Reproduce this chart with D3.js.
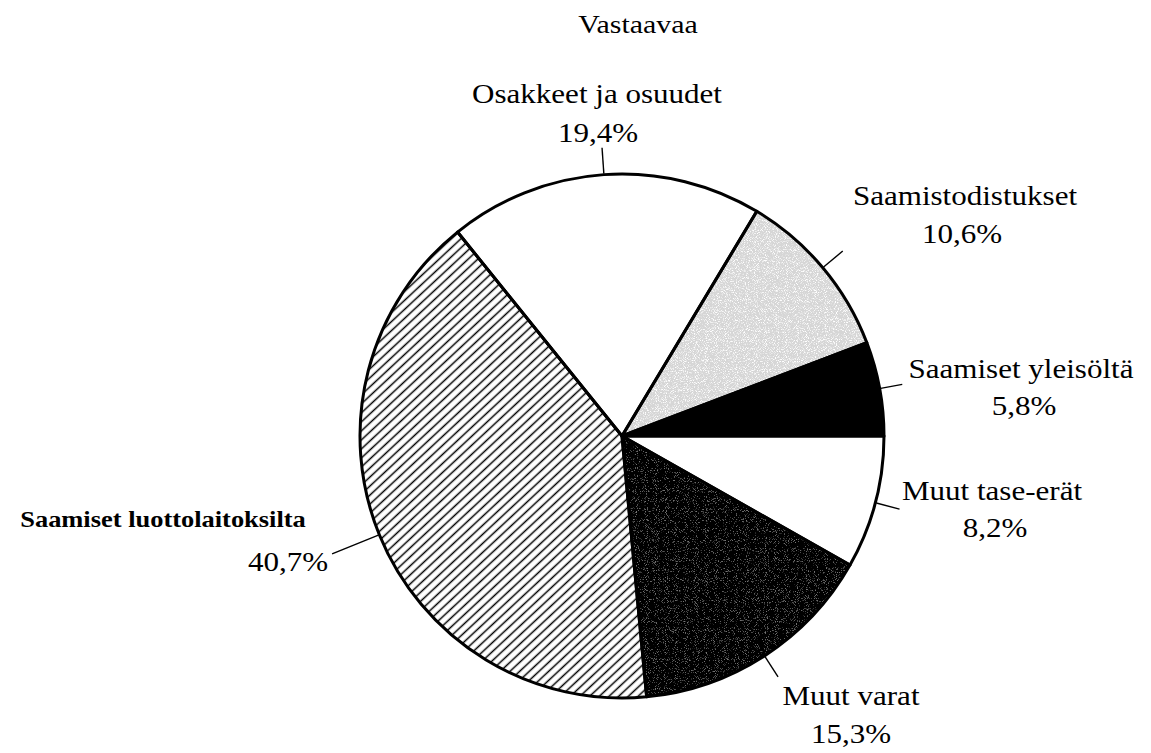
<!DOCTYPE html>
<html>
<head>
<meta charset="utf-8">
<script src="https://cdn.jsdelivr.net/npm/d3@7"></script>
<style>
  html, body { margin: 0; padding: 0; background: #fff; }
  svg { display: block; }
</style>
</head>
<body>
<svg id="chart" width="1151" height="753"></svg>
<script>
// Balance sheet assets ("Vastaavaa"), share of total in percent.
// Order runs clockwise from three o'clock.
const chartTitle = "Vastaavaa";
const categories = [
  "Muut tase-erät",
  "Muut varat",
  "Saamiset luottolaitoksilta",
  "Osakkeet ja osuudet",
  "Saamistodistukset",
  "Saamiset yleisöltä"
];
const shares = [8.2, 15.3, 40.7, 19.4, 10.6, 5.8];
const shareLabels = ["8,2%", "15,3%", "40,7%", "19,4%", "10,6%", "5,8%"];

// ---- layout & styles ----
const W = 1151, H = 753;
const cx = 622, cy = 436, R = 262;
const stretch = 1.15;           // wide serif lettering
const serif = "'Liberation Serif', 'Times New Roman', 'DejaVu Serif', serif";

// label placement: name centre/baseline, percent centre/baseline, leader length
const labelLayout = {
  "Muut tase-erät":             { nx: 992, ny: 500, px: 995, py: 537, lead: 24 },
  "Muut varat":                 { nx: 851, ny: 705, px: 851, py: 743, lead: 24 },
  "Saamiset luottolaitoksilta": { nx: 163, ny: 527, px: 288, py: 571, lead: 50, bold: true },
  "Osakkeet ja osuudet":        { nx: 597, ny: 103, px: 598, py: 142, lead: 26 },
  "Saamistodistukset":          { nx: 965, ny: 205, px: 962, py: 243, lead: 25 },
  "Saamiset yleisöltä":         { nx: 1021, ny: 378, px: 1024, py: 415, lead: 22 }
};

const svg = d3.select("#chart");
const defs = svg.append("defs");

// diagonal hatching
const hatch = defs.append("pattern")
  .attr("id", "hatch")
  .attr("patternUnits", "userSpaceOnUse")
  .attr("width", 6.6).attr("height", 6.6)
  .attr("patternTransform", "rotate(-43)");
hatch.append("rect").attr("width", 6.6).attr("height", 6.6).attr("fill", "#fff");
hatch.append("line")
  .attr("x1", 0).attr("y1", 3.3).attr("x2", 6.6).attr("y2", 3.3)
  .attr("stroke", "#000").attr("stroke-width", 1.5);

// stippled grey tones
function gradient(id, x1, x2, stops) {
  const g = defs.append("linearGradient")
    .attr("id", id)
    .attr("gradientUnits", "userSpaceOnUse")
    .attr("x1", x1).attr("y1", 0).attr("x2", x2).attr("y2", 0);
  stops.forEach(([o, c]) => g.append("stop").attr("offset", o).attr("stop-color", c));
}
gradient("lightStipple", 625, 870, [
  [0, "#f0f0f0"], [0.28, "#d6d6d6"], [0.42, "#a6a6a6"], [0.55, "#8e8e8e"],
  [0.7, "#a2a2a2"], [0.85, "#c4c4c4"], [1, "#d4d4d4"]
]);
gradient("darkStipple", 625, 855, [
  [0, "#3a3a3a"], [0.1, "#141414"], [0.42, "#101010"], [0.55, "#555555"],
  [0.66, "#777777"], [0.8, "#2c2c2c"], [0.92, "#141414"], [1, "#444"]
]);

// fine speckle used on the grey tones
function grainFilter(id, amount) {
  const f = defs.append("filter").attr("id", id);
  f.append("feTurbulence")
    .attr("type", "fractalNoise").attr("baseFrequency", 1.1)
    .attr("numOctaves", 1).attr("seed", 7).attr("result", "noise");
  f.append("feColorMatrix")
    .attr("in", "noise").attr("type", "matrix")
    .attr("values", "4 0 0 0 -2  4 0 0 0 -2  4 0 0 0 -2  0 0 0 0 1")
    .attr("result", "mono");
  f.append("feComposite")
    .attr("in", "SourceGraphic").attr("in2", "mono")
    .attr("operator", "arithmetic")
    .attr("k1", 0).attr("k2", 1).attr("k3", amount).attr("k4", -amount / 2)
    .attr("result", "mixed");
  f.append("feComposite")
    .attr("in", "mixed").attr("in2", "SourceGraphic").attr("operator", "in");
}
grainFilter("grainLight", 0.4);
grainFilter("grainDark", 0.28);

const fills = {
  "Muut tase-erät": { fill: "#fff" },
  "Muut varat": { fill: "url(#darkStipple)", filter: "url(#grainDark)" },
  "Saamiset luottolaitoksilta": { fill: "url(#hatch)" },
  "Osakkeet ja osuudet": { fill: "#fff" },
  "Saamistodistukset": { fill: "url(#lightStipple)", filter: "url(#grainLight)" },
  "Saamiset yleisöltä": { fill: "#000" }
};

// ---- title ----
svg.append("text")
  .attr("transform", `translate(638,33) scale(${stretch},1)`)
  .attr("text-anchor", "middle")
  .attr("font-family", serif)
  .attr("font-size", 26)
  .attr("fill", "#000")
  .text(chartTitle);

// ---- pie ----
const slices = categories.map((c, i) => ({ name: c, value: shares[i], label: shareLabels[i] }));
const pie = d3.pie().value(d => d.value).sort(null)
  .startAngle(Math.PI / 2).endAngle(Math.PI / 2 + 2 * Math.PI);
const arcs = pie(slices);
const arc = d3.arc().innerRadius(0).outerRadius(R);

const g = svg.append("g").attr("transform", `translate(${cx},${cy})`);

g.selectAll("path.fill")
  .data(arcs)
  .join("path")
  .attr("class", "fill")
  .attr("d", arc)
  .attr("fill", d => fills[d.data.name].fill)
  .attr("filter", d => fills[d.data.name].filter || null);

g.selectAll("path.edge")
  .data(arcs)
  .join("path")
  .attr("class", "edge")
  .attr("d", arc)
  .attr("fill", "none")
  .attr("stroke", "#000")
  .attr("stroke-width", 3)
  .attr("stroke-linejoin", "round");

// ---- leader lines at slice mid-angles ----
const polar = (a, r) => [Math.sin(a) * r, -Math.cos(a) * r];
g.selectAll("line.leader")
  .data(arcs)
  .join("line")
  .attr("class", "leader")
  .each(function (d) {
    const a = (d.startAngle + d.endAngle) / 2;
    const lay = labelLayout[d.data.name];
    const [x1, y1] = polar(a, R + 1);
    const [x2, y2] = polar(a, R + 1 + lay.lead);
    d3.select(this).attr("x1", x1).attr("y1", y1).attr("x2", x2).attr("y2", y2);
  })
  .attr("stroke", "#000")
  .attr("stroke-width", 1.4);

// ---- labels ----
const labels = svg.append("g")
  .attr("font-family", serif)
  .attr("fill", "#000");
arcs.forEach(d => {
  const lay = labelLayout[d.data.name];
  labels.append("text")
    .attr("transform", `translate(${lay.nx},${lay.ny}) scale(${stretch},1)`)
    .attr("text-anchor", "middle")
    .attr("font-size", lay.bold ? 23 : 27)
    .attr("font-weight", lay.bold ? "bold" : "normal")
    .text(d.data.name);
  labels.append("text")
    .attr("transform", `translate(${lay.px},${lay.py}) scale(${stretch},1)`)
    .attr("text-anchor", "middle")
    .attr("font-size", 27)
    .text(d.data.label);
});
</script>
</body>
</html>
